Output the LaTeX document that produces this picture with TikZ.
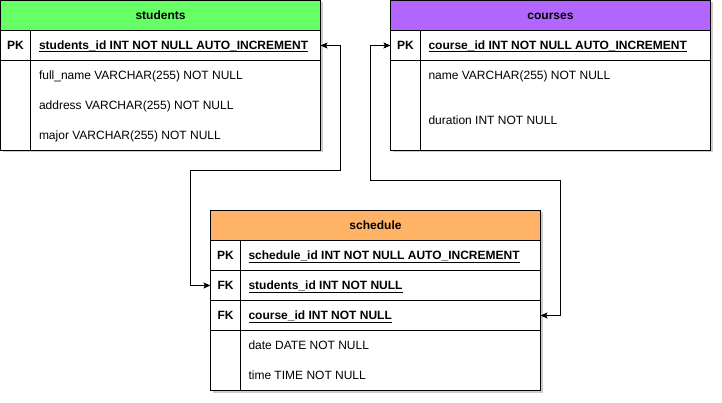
\documentclass[tikz,border=0pt]{standalone}
\usepackage{fontspec}
\setmainfont{Liberation Sans}
\usetikzlibrary{arrows.meta,shadows}
\definecolor{hdgreen}{HTML}{66FF66}
\definecolor{hdpurple}{HTML}{B266FF}
\definecolor{hdorange}{HTML}{FFB366}
\begin{document}
\begin{tikzpicture}[x=1pt,y=-1pt,
  font=\fontsize{12}{14}\selectfont,
  line width=1pt,
  frame/.style={draw=black, fill=white, inner sep=0pt, outer sep=0pt, anchor=north west,
    drop shadow={shadow xshift=2pt, shadow yshift=-2pt, fill=black, opacity=0.2}},
  cell/.style={draw=black, inner sep=0pt, outer sep=0pt, anchor=north west, minimum height=30pt},
  lbl/.style={inner sep=0pt, outer sep=0pt, anchor=base west},
  key/.style={inner sep=0pt, outer sep=0pt, anchor=base, font=\fontsize{12}{14}\selectfont\bfseries},
  title/.style={inner sep=0pt, outer sep=0pt, anchor=base, font=\fontsize{12}{14}\selectfont\bfseries},
  ul/.style={line width=1pt},
  link/.style={draw=black, line width=1pt, {Stealth[length=7pt,width=6pt,inset=1.5pt]}-{Stealth[length=7pt,width=6pt,inset=1.5pt]}}
]
\useasboundingbox (0,0) rectangle (722,403);

% ---------- students ----------
\node[frame, minimum width=320pt, minimum height=150pt] (students) at (0.5,0.5) {};
\node[cell, fill=hdgreen, minimum width=320pt] (sthead) at (0.5,0.5) {};
\node[cell, minimum width=320pt] (stpk) at (0.5,30.5) {};
\draw ([xshift=30pt]stpk.north west) -- ([xshift=30pt]students.south west);
\node[title] (stt) at (160.5,19.5) {students};
\node[key] (stk1) at (15.5,49.5) {PK};
\node[lbl, font=\fontsize{12}{14}\selectfont\bfseries] (st1) at (39,49.5) {students\_id INT NOT NULL AUTO\_INCREMENT};
\draw[ul] ([yshift=-2.5pt]st1.base west) -- ([yshift=-2.5pt]st1.base east);
\node[lbl] (st2) at (39,79.5) {full\_name VARCHAR(255) NOT NULL};
\node[lbl] (st3) at (39,109.5) {address VARCHAR(255) NOT NULL};
\node[lbl] (st4) at (39,139.5) {major VARCHAR(255) NOT NULL};

% ---------- courses ----------
\node[frame, minimum width=320pt, minimum height=150pt] (courses) at (390.5,0.5) {};
\node[cell, fill=hdpurple, minimum width=320pt] (cohead) at (390.5,0.5) {};
\node[cell, minimum width=320pt] (copk) at (390.5,30.5) {};
\draw ([xshift=30pt]copk.north west) -- ([xshift=30pt]courses.south west);
\node[title] (cot) at (550.5,19.5) {courses};
\node[key] (cok1) at (405.5,49.5) {PK};
\node[lbl, font=\fontsize{12}{14}\selectfont\bfseries] (co1) at (428.5,49.5) {course\_id INT NOT NULL AUTO\_INCREMENT};
\draw[ul] ([yshift=-2.5pt]co1.base west) -- ([yshift=-2.5pt]co1.base east);
\node[lbl] (co2) at (428.5,79.5) {name VARCHAR(255) NOT NULL};
\node[lbl] (co3) at (428.5,124.5) {duration INT NOT NULL};

% ---------- schedule ----------
\node[frame, minimum width=330pt, minimum height=180pt] (schedule) at (210.5,210.5) {};
\node[cell, fill=hdorange, minimum width=330pt] (schead) at (210.5,210.5) {};
\node[cell, minimum width=330pt] (scpk) at (210.5,240.5) {};
\node[cell, minimum width=330pt] (scfk1) at (210.5,270.5) {};
\node[cell, minimum width=330pt] (scfk2) at (210.5,300.5) {};
\draw ([xshift=30pt]scpk.north west) -- ([xshift=30pt]schedule.south west);
\node[title] (sct) at (375.5,229.5) {schedule};
\node[key] (sck1) at (225.5,259.5) {PK};
\node[key] (sck2) at (225.5,289.5) {FK};
\node[key] (sck3) at (225.5,319.5) {FK};
\node[lbl, font=\fontsize{12}{14}\selectfont\bfseries] (sc1) at (248.5,259.5) {schedule\_id INT NOT NULL AUTO\_INCREMENT};
\draw[ul] ([yshift=-2.5pt]sc1.base west) -- ([yshift=-2.5pt]sc1.base east);
\node[lbl, font=\fontsize{12}{14}\selectfont\bfseries] (sc2) at (248.5,289.5) {students\_id INT NOT NULL};
\draw[ul] ([yshift=-2.5pt]sc2.base west) -- ([yshift=-2.5pt]sc2.base east);
\node[lbl, font=\fontsize{12}{14}\selectfont\bfseries] (sc3) at (248.5,319.5) {course\_id INT NOT NULL};
\draw[ul] ([yshift=-2.5pt]sc3.base west) -- ([yshift=-2.5pt]sc3.base east);
\node[lbl] (sc4) at (248.5,349.5) {date DATE NOT NULL};
\node[lbl] (sc5) at (248.5,379.5) {time TIME NOT NULL};

% ---------- connectors ----------
\coordinate (a2) at (340.5,45.5);
\coordinate (a1) at (190.5,170.5);
\draw[link] (stpk.east) -- (a2) |- (a1) |- (scfk1.west);

\coordinate (b1) at (370.5,45.5);
\coordinate (b2) at (560.5,180.5);
\draw[link] (copk.west) -- (b1) |- (b2) |- (scfk2.east);
\end{tikzpicture}
\end{document}
